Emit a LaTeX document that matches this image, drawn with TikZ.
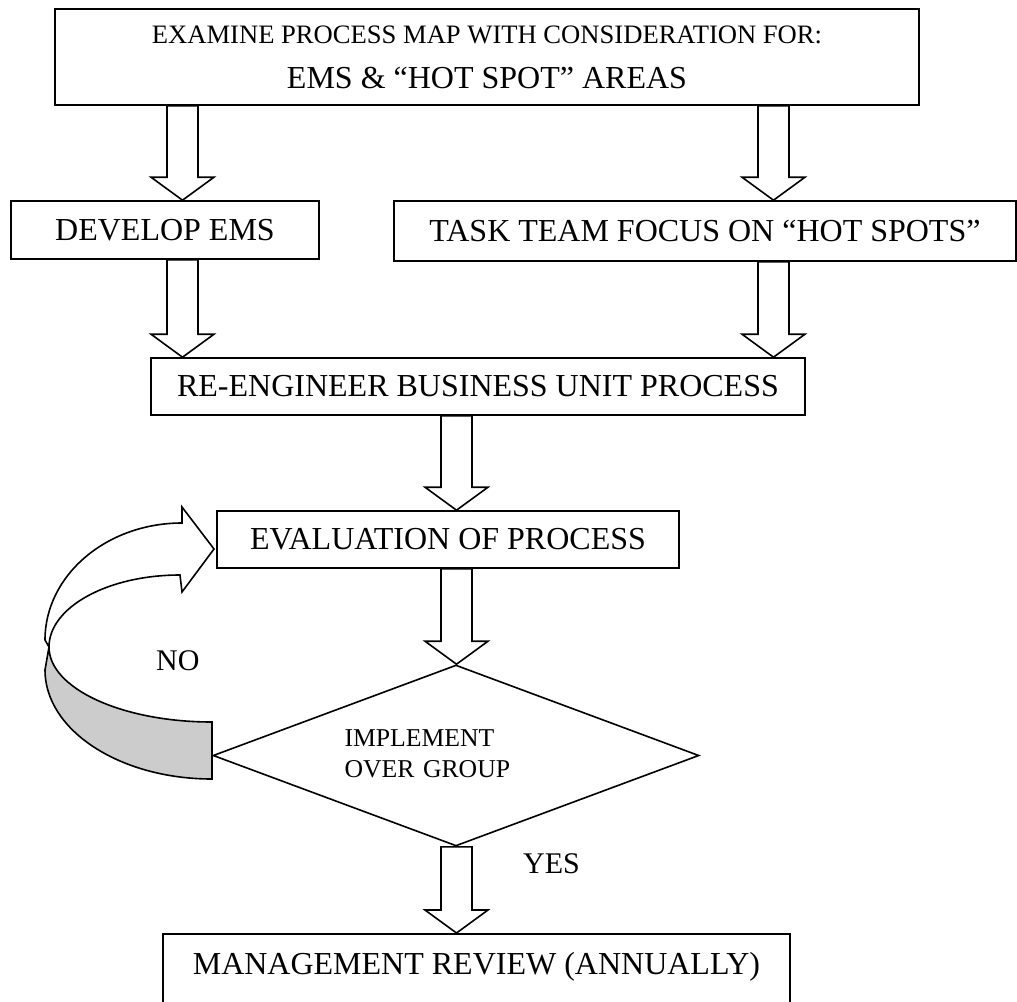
\documentclass[tikz,border=0pt]{standalone}
\usepackage{fontspec}
\setmainfont{Liberation Serif}
\usetikzlibrary{calc,shapes.geometric}

% hollow block arrow straight down: x position, from node, to node
\newcommand{\blkarrow}[3]{%
  \draw[blockarrow] let \p1=(#2.south), \p2=(#3.north) in
    (#1pt-15.5pt,\y1) -- (#1pt-15.5pt,\y2+23pt) -- (#1pt-31.5pt,\y2+23pt)
    -- (#1pt,\y2) -- (#1pt+31.5pt,\y2+23pt) -- (#1pt+15.5pt,\y2+23pt)
    -- (#1pt+15.5pt,\y1) -- cycle;}

\begin{document}
\begin{tikzpicture}[x=1pt,y=-1pt,
    box/.style={draw,line width=1.6pt,inner sep=0pt,fill=white,
      font=\fontsize{32}{38}\selectfont},
    blockarrow/.style={draw,line width=1.6pt,fill=white},
    lbl/.style={font=\fontsize{30}{36}\selectfont,inner sep=0pt}]
  \useasboundingbox (0,0) rectangle (1017,1001);
  \clip (0,0) rectangle (1017,1001);
  \fill[white] (0,0) rectangle (1017,1001);

  \node[box,minimum width=864pt,minimum height=96pt,align=center,
    font=\fontsize{32}{45}\selectfont] (A) at (487,57)
    {{\fontsize{26.6}{30}\selectfont EXAMINE PROCESS MAP WITH CONSIDERATION FOR:}\\
     EMS \& “HOT SPOT” AREAS};
  \node[box,minimum width=308pt,minimum height=58pt] (B) at (165,230) {DEVELOP EMS};
  \node[box,minimum width=622pt,minimum height=60pt] (C) at (705,231)
    {TASK TEAM FOCUS ON “HOT SPOTS”};
  \node[box,minimum width=654pt,minimum height=57pt] (D) at (478,386.5)
    {RE-ENGINEER BUSINESS UNIT PROCESS};
  \node[box,minimum width=462pt,minimum height=57pt] (E) at (448,539.5)
    {EVALUATION OF PROCESS};
  \node[box,diamond,aspect=2.685,minimum width=486pt,minimum height=181pt,
    text width=223pt,align=left,font=\fontsize{25.7}{31}\selectfont] (F) at (456,755.5)
    {\raisebox{4pt}{IMPLEMENT}\\\raisebox{4pt}{OVER GROUP}};
  \node[box,anchor=north,minimum width=627pt,text height=22pt,text depth=17pt,
    inner ysep=19pt] (G) at (476.5,933) {MANAGEMENT REVIEW (ANNUALLY)};

  \blkarrow{182.5}{A}{B}
  \blkarrow{773.5}{A}{C}
  \blkarrow{182.5}{B}{D}
  \blkarrow{773.5}{C}{D}
  \blkarrow{456.5}{D}{E}
  \blkarrow{456.5}{E}{F}
  \blkarrow{456.5}{F}{G}

  % curved NO arrow back to the evaluation
  \filldraw[line width=1.6pt,fill=black!20] (49,647)
    arc[start angle=180,end angle=270,x radius=163pt,y radius=75pt]
    -- (212,779)
    arc[start angle=270,end angle=180,x radius=167pt,y radius=109pt]
    -- cycle;
  \filldraw[line width=1.6pt,fill=white] (49,647)
    arc[start angle=180,end angle=90,x radius=131pt,y radius=72pt]
    -- (182,592) -- (214,549) -- (182,507) -- (182,523)
    arc[start angle=90,end angle=180,x radius=137pt,y radius=117pt]
    -- cycle;

  \node[lbl,anchor=base west] (no) at (156,670) {NO};
  \node[lbl,anchor=base west] (yes) at (523,873) {YES};
\end{tikzpicture}
\end{document}
